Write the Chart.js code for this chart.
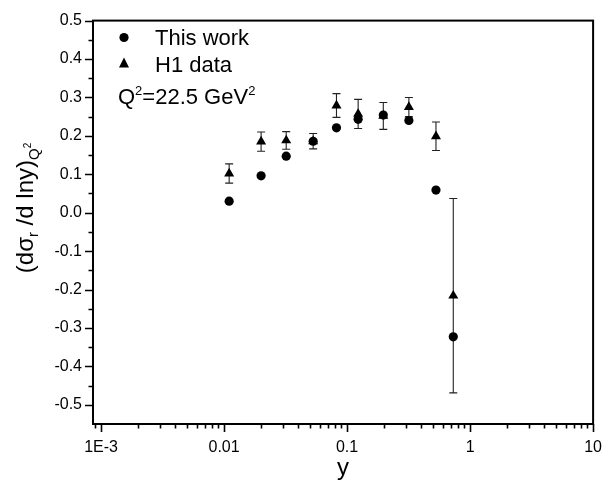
<!DOCTYPE html>
<html>
<head>
<meta charset="utf-8">
<script src="https://cdn.jsdelivr.net/npm/chart.js@4.4.0/dist/chart.umd.min.js"></script>
<style>
  html, body { margin: 0; padding: 0; background: #fff; }
  #wrap { width: 616px; height: 482px; }
</style>
</head>
<body>
<div id="wrap"><canvas id="chart" width="616" height="482"></canvas></div>
<script>
// bin centres in y (log axis)
const yBins = [0.011, 0.020, 0.032, 0.053, 0.082, 0.123, 0.197, 0.318, 0.528, 0.73];
// this work
const thisWork = [0.030, 0.096, 0.147, 0.186, 0.221, 0.243, 0.254, 0.240, 0.059, -0.323];
// H1 data with symmetric errors
const h1Data = [0.102, 0.185, 0.188, 0.186, 0.279, 0.257, 0.252, 0.275, 0.199, -0.216];
const h1Err = [0.025, 0.025, 0.023, 0.020, 0.031, 0.038, 0.035, 0.025, 0.037, 0.253];

// axis ticks
const xDecades = [1e-3, 1e-2, 1e-1, 1, 10];
const xLabels = ['1E-3', '0.01', '0.1', '1', '10'];
const yTicks = [-0.5, -0.4, -0.3, -0.2, -0.1, 0, 0.1, 0.2, 0.3, 0.4, 0.5];

const FONT = "'Liberation Sans', Arial, Helvetica, sans-serif";
const X_MIN = 8.6e-4, X_MAX = 10;
const Y_MIN = -0.55, Y_MAX = 0.5;

// Frame, outward ticks, error bars, legend and axis titles
const framePlugin = {
  id: 'frame',
  beforeDatasetsDraw(chart) {
    const { ctx, scales: { x, y } } = chart;
    ctx.save();
    ctx.strokeStyle = '#222';
    ctx.lineWidth = 1.1;
    const cap = 4;
    yBins.forEach((v, i) => {
      const px = x.getPixelForValue(v);
      const hi = y.getPixelForValue(h1Data[i] + h1Err[i]);
      const lo = y.getPixelForValue(h1Data[i] - h1Err[i]);
      ctx.beginPath();
      ctx.moveTo(px, hi); ctx.lineTo(px, lo);
      ctx.moveTo(px - cap, hi); ctx.lineTo(px + cap, hi);
      ctx.moveTo(px - cap, lo); ctx.lineTo(px + cap, lo);
      ctx.stroke();
    });
    ctx.restore();
  },
  afterDraw(chart) {
    const { ctx, chartArea: a, scales: { x, y } } = chart;
    ctx.save();
    ctx.strokeStyle = '#000';
    ctx.fillStyle = '#000';

    // ticks
    ctx.lineWidth = 1.6;
    ctx.beginPath();
    for (let k = -4; k <= 1; k++) {
      for (let m = 1; m <= 9; m++) {
        const v = m * Math.pow(10, k);
        if (v < X_MIN || v > X_MAX * 1.0001) continue;
        const px = Math.round(x.getPixelForValue(v)) + 0.5;
        const len = m === 1 ? 8 : 4.5;
        ctx.moveTo(px, a.bottom); ctx.lineTo(px, a.bottom + len);
      }
    }
    for (let i = 0; i <= 21; i++) {
      const v = -0.55 + i * 0.05;
      if (v < Y_MIN + 0.001 || v > Y_MAX + 0.001) continue;
      const major = Math.abs(Math.round(v * 10) - v * 10) < 0.01;
      const py = Math.round(y.getPixelForValue(v)) + 0.5;
      const len = major ? 8 : 4.5;
      ctx.moveTo(a.left, py); ctx.lineTo(a.left - len, py);
    }
    ctx.stroke();

    // frame
    ctx.lineWidth = 2;
    ctx.strokeRect(a.left, a.top, a.right - a.left, a.bottom - a.top);

    // legend
    ctx.beginPath();
    ctx.arc(124, 37.5, 4.6, 0, Math.PI * 2);
    ctx.fill();
    ctx.beginPath();
    ctx.moveTo(124, 57.5); ctx.lineTo(129, 67.5); ctx.lineTo(119, 67.5);
    ctx.closePath();
    ctx.fill();
    ctx.font = '22px ' + FONT;
    ctx.textBaseline = 'alphabetic';
    ctx.textAlign = 'left';
    ctx.fillText('This work', 155, 45);
    ctx.fillText('H1 data', 155, 71.5);
    let tx = 118;
    const qy = 104;
    ctx.fillText('Q', tx, qy); tx += ctx.measureText('Q').width;
    ctx.font = '13px ' + FONT;
    ctx.fillText('2', tx, qy - 9); tx += ctx.measureText('2').width;
    ctx.font = '22px ' + FONT;
    ctx.fillText('=22.5 GeV', tx, qy); tx += ctx.measureText('=22.5 GeV').width;
    ctx.font = '13px ' + FONT;
    ctx.fillText('2', tx, qy - 9);

    // x title
    ctx.font = '24px ' + FONT;
    ctx.textAlign = 'center';
    ctx.fillText('y', (a.left + a.right) / 2, 475);

    // y title, rotated, with subscripts
    const parts = [
      { t: '(d\u03C3', s: 24, dy: 0 },
      { t: 'r', s: 15, dy: 5 },
      { t: ' /d lny)', s: 24, dy: 0 },
      { t: 'Q', s: 15, dy: 6 },
      { t: '2', s: 10, dy: -2 }
    ];
    let total = 0;
    parts.forEach(p => { ctx.font = p.s + 'px ' + FONT; p.w = ctx.measureText(p.t).width; total += p.w; });
    ctx.translate(33, 208);
    ctx.rotate(-Math.PI / 2);
    ctx.textAlign = 'left';
    let off = -total / 2;
    parts.forEach(p => {
      ctx.font = p.s + 'px ' + FONT;
      ctx.fillText(p.t, off, p.dy);
      off += p.w;
    });
    ctx.restore();
  }
};

const ctx = document.getElementById('chart').getContext('2d');
new Chart(ctx, {
  type: 'scatter',
  data: {
    datasets: [
      {
        label: 'This work',
        data: yBins.map((v, i) => ({ x: v, y: thisWork[i] })),
        pointStyle: 'circle',
        pointRadius: 4.6,
        backgroundColor: '#000',
        borderColor: '#000',
        borderWidth: 0,
      },
      {
        label: 'H1 data',
        data: yBins.map((v, i) => ({ x: v, y: h1Data[i] })),
        pointStyle: 'triangle',
        pointRadius: 5.8,
        backgroundColor: '#000',
        borderColor: '#000',
        borderWidth: 0,
      },
    ],
  },
  options: {
    responsive: false,
    animation: false,
    events: [],
    layout: { padding: { left: 0, right: 17, top: 15, bottom: 0 } },
    plugins: {
      legend: { display: false },
      tooltip: { enabled: false },
    },
    scales: {
      x: {
        type: 'logarithmic',
        min: X_MIN,
        max: X_MAX,
        afterBuildTicks: s => { s.ticks = xDecades.map(v => ({ value: v })); },
        afterFit: s => { s.height = 58; },
        grid: { display: false, drawTicks: false },
        border: { display: false },
        ticks: {
          autoSkip: false,
          maxRotation: 0,
          padding: 14,
          color: '#000',
          font: { family: FONT, size: 16 },
          callback: (v, i) => xLabels[i],
        },
      },
      y: {
        type: 'linear',
        min: Y_MIN,
        max: Y_MAX,
        afterBuildTicks: s => { s.ticks = yTicks.map(v => ({ value: v })); },
        afterFit: s => { s.width = 93; },
        grid: { display: false, drawTicks: false },
        border: { display: false },
        ticks: {
          autoSkip: false,
          padding: 11,
          color: '#000',
          font: { family: FONT, size: 16 },
          callback: v => v.toFixed(1),
        },
      },
    },
  },
  plugins: [framePlugin],
});
</script>
</body>
</html>
